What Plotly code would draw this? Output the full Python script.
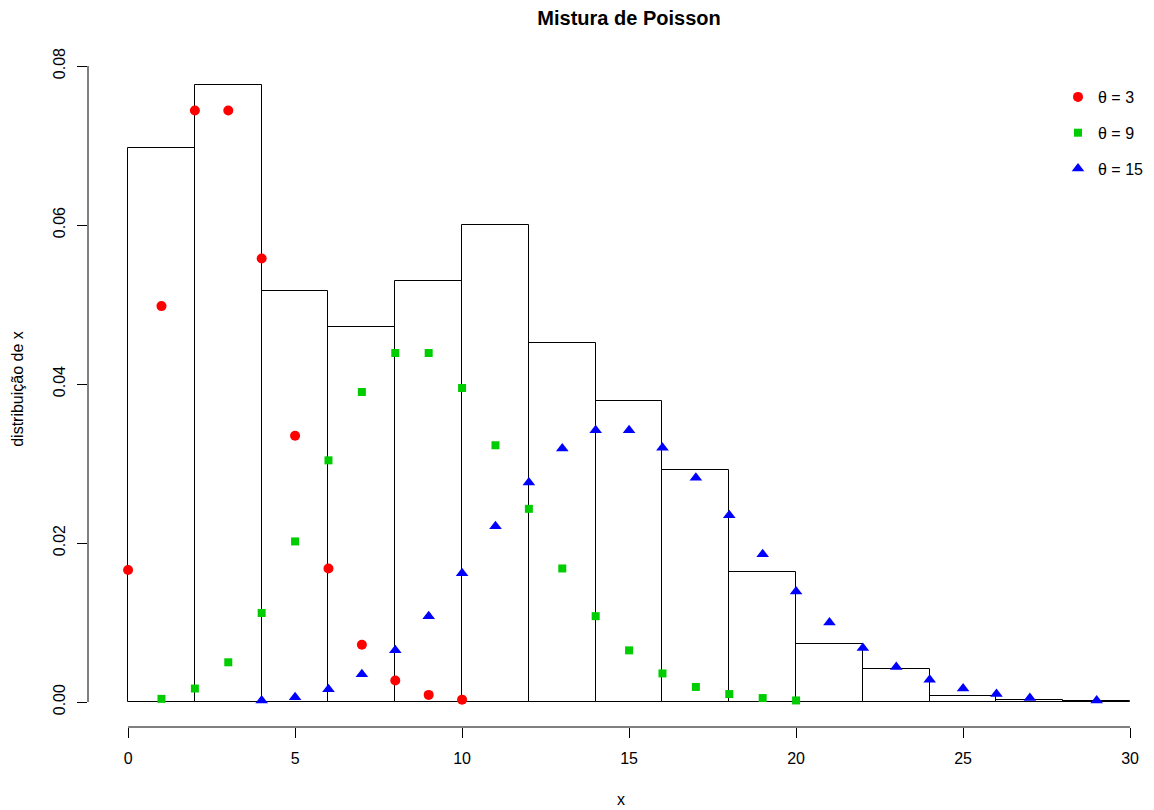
import plotly.graph_objects as go

# ---- data ----
bin_left = [0, 2, 4, 6, 8, 10, 12, 14, 16, 18, 20, 22, 24, 26, 28]
bin_width = 2
density = [0.0697, 0.0776, 0.0517, 0.0472, 0.0530, 0.0600, 0.0452, 0.0379,
           0.0292, 0.0164, 0.0073, 0.0042, 0.0007, 0.0002, 0.0001]

x_t3 = [0, 1, 2, 3, 4, 5, 6, 7, 8, 9, 10]
y_t3 = [0.0166, 0.0498, 0.0744, 0.0744, 0.0558, 0.0335, 0.0168, 0.0072,
        0.0027, 0.0009, 0.0003]

x_t9 = list(range(1, 21))
y_t9 = [0.0004, 0.0017, 0.0050, 0.0112, 0.0202, 0.0304, 0.0390, 0.0439,
        0.0439, 0.0395, 0.0323, 0.0243, 0.0168, 0.0108, 0.0065, 0.0036,
        0.0019, 0.0010, 0.0005, 0.0002]

x_t15 = list(range(4, 28)) + [29]
y_t15 = [0.0002, 0.0006, 0.0016, 0.0035, 0.0065, 0.0108, 0.0162, 0.0221,
         0.0276, 0.0319, 0.0342, 0.0342, 0.0320, 0.0282, 0.0235, 0.0186,
         0.0139, 0.0100, 0.0068, 0.0044, 0.0028, 0.0017, 0.0010, 0.0005,
         0.0002]

x_ticks = [0, 5, 10, 15, 20, 25, 30]
y_ticks = [0.00, 0.02, 0.04, 0.06, 0.08]
y_tick_text = ["0.00", "0.02", "0.04", "0.06", "0.08"]

labels = ["θ = 3", "θ = 9", "θ = 15"]
colors = ["#FF0000", "#00CD00", "#0000FF"]

FONT = "Liberation Sans, Arial, Helvetica, sans-serif"

# page has an 8px body margin; figure is sized to fit the 1154x810 window
W, H = 1146, 802
OFF = 8
L, T, B, R = 88 - OFF, 51 - OFF, 83, 0
plot_w = W - L - R
plot_h = H - T - B

fig = go.Figure()

fig.add_trace(go.Bar(
    x=[b + bin_width / 2 for b in bin_left],
    y=density,
    width=[bin_width] * len(bin_left),
    marker=dict(color="rgba(255,255,255,0)", line=dict(color="black", width=1)),
    showlegend=False,
    hoverinfo="skip",
))

series = [(x_t3, y_t3, "circle", 10), (x_t9, y_t9, "square", 8),
          (x_t15, y_t15, "triangle-up", 11)]
for i, (xs, ys, sym, sz) in enumerate(series):
    fig.add_trace(go.Scatter(
        x=xs, y=ys, mode="markers", name=labels[i],
        legendgroup=f"g{i}",
        marker=dict(symbol=sym, size=sz, color=colors[i], line=dict(width=0)),
    ))

# R-style axis lines (spanning first to last tick only)
fig.add_shape(type="line", xref="x", yref="paper", x0=x_ticks[0], x1=x_ticks[-1],
              y0=0, y1=0, line=dict(color="black", width=1))
fig.add_shape(type="line", xref="paper", yref="y", x0=0, x1=0,
              y0=y_ticks[0], y1=y_ticks[-1], line=dict(color="black", width=1))

fig.update_layout(
    width=W, height=H,
    margin=dict(l=L, r=R, t=T, b=B),
    paper_bgcolor="white", plot_bgcolor="white",
    font=dict(family=FONT, size=16, color="black"),
    title=dict(text="<b>Mistura de Poisson</b>", x=(629 - OFF) / W, xanchor="center",
               y=1 - (18 - OFF) / H, yanchor="middle", xref="container", yref="container",
               font=dict(family=FONT, size=20, color="black")),
    bargap=0,
    showlegend=True,
    legend=dict(x=(1058 - 88) / plot_w, y=(727 - 80) / plot_h, xanchor="left", yanchor="top",
                bgcolor="rgba(0,0,0,0)", borderwidth=0, tracegroupgap=12,
                font=dict(family=FONT, size=16)),
    xaxis=dict(range=[-1.2, -1.2 + plot_w / 33.4], tickvals=x_ticks,
               ticks="outside", ticklen=10, tickcolor="black", tickwidth=1,
               ticklabelstandoff=7,
               showgrid=False, zeroline=False, showline=False,
               title=dict(text="x", standoff=27, font=dict(size=16))),
    yaxis=dict(range=[-0.00314, 0.08189], tickvals=y_ticks, ticktext=y_tick_text,
               tickangle=-90, ticklabelstandoff=6,
               ticks="outside", ticklen=10, tickcolor="black", tickwidth=1,
               showgrid=False, zeroline=False, showline=False,
               title=dict(text="distribuição de x", standoff=22, font=dict(size=16))),
)

fig.write_html("out.html")
